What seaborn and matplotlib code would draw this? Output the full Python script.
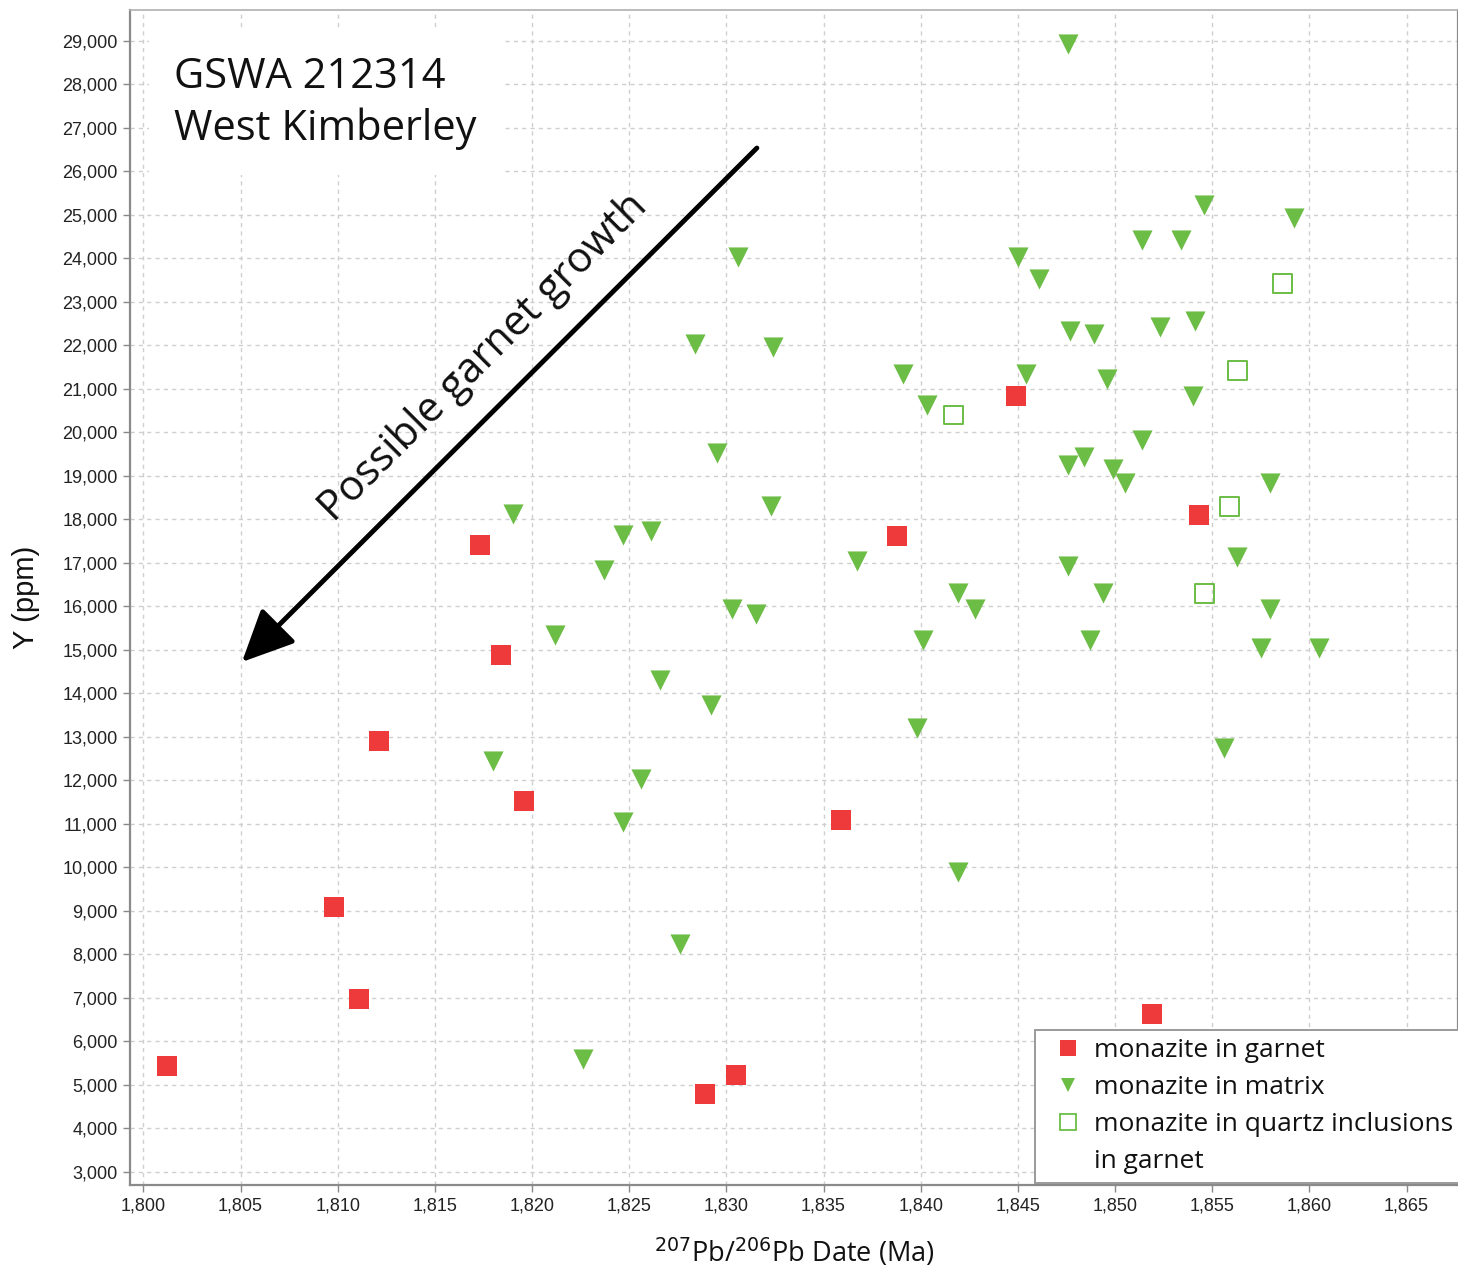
import numpy as np
import pandas as pd
import matplotlib
matplotlib.use("Agg")
import matplotlib.pyplot as plt
import seaborn as sns
from matplotlib.lines import Line2D
from matplotlib.ticker import MultipleLocator, StrMethodFormatter

# ---- data ----
garnet_date = [1801.2, 1809.8, 1811.1, 1812.1, 1817.3, 1818.4, 1819.6,
               1828.9, 1830.5, 1835.9, 1838.8, 1844.9, 1854.3, 1851.9]
garnet_y = [5430, 9085, 6970, 12900, 17400, 14880, 11520,
            4790, 5220, 11085, 17610, 20830, 18100, 6625]

quartz_date = [1841.7, 1858.6, 1856.3, 1855.9, 1854.6]
quartz_y = [20395, 23410, 21410, 18300, 16300]

matrix_date = [1847.6, 1854.6, 1859.2, 1830.6, 1845.0, 1851.4, 1853.4, 1846.1,
               1847.7, 1848.9, 1852.3, 1854.1, 1828.4, 1832.4, 1839.1, 1845.4,
               1849.6, 1840.3, 1854.0, 1851.4, 1829.5, 1847.6, 1848.4, 1849.9,
               1850.5, 1858.0, 1819.0, 1832.3, 1824.7, 1826.1, 1823.7, 1836.7,
               1856.3, 1847.6, 1841.9, 1849.4, 1842.8, 1858.0, 1830.3, 1831.5,
               1821.2, 1840.1, 1848.7, 1857.5, 1860.5, 1826.6, 1829.2, 1839.8,
               1818.0, 1855.6, 1825.6, 1824.7, 1841.9, 1827.6, 1822.6]
matrix_y = [28920, 25220, 24920, 24030, 24030, 24420, 24420, 23520,
            22330, 22260, 22420, 22560, 22030, 21960, 21340, 21340,
            21220, 20620, 20830, 19820, 19520, 19250, 19430, 19150,
            18830, 18830, 18120, 18300, 17640, 17730, 16830, 17040,
            17130, 16920, 16300, 16300, 15940, 15940, 15940, 15820,
            15340, 15220, 15220, 15040, 15040, 14300, 13730, 13200,
            12440, 12740, 12030, 11040, 9890, 8230, 5590]

legend_labels = ["monazite in garnet", "monazite in matrix",
                 "monazite in quartz inclusions", "in garnet"]

RED = "#EE3A3A"
GREEN = "#6CBD45"

sns.set_theme(style="white")
plt.rcParams["font.family"] = ["Liberation Sans", "DejaVu Sans"]

fig = plt.figure(figsize=(14.58, 12.70), dpi=100)
ax = fig.add_axes([130 / 1458, 1 - 1185 / 1270, 1 - 130 / 1458, (1185 - 10) / 1270])

df_g = pd.DataFrame({"date": garnet_date, "y": garnet_y})
df_m = pd.DataFrame({"date": matrix_date, "y": matrix_y})
df_q = pd.DataFrame({"date": quartz_date, "y": quartz_y})

sns.scatterplot(data=df_m, x="date", y="y", marker="v", s=210, color=GREEN,
                linewidth=0, ax=ax, zorder=3)
sns.scatterplot(data=df_g, x="date", y="y", marker="s", s=200, color=RED,
                linewidth=0, ax=ax, zorder=3)
ax.scatter(df_q["date"], df_q["y"], marker="s", s=185, facecolors="none",
           edgecolors=GREEN, linewidths=1.4, zorder=3)

ax.set_xlim(1799.31, 1867.65)
ax.set_ylim(2694, 29706)
ax.xaxis.set_major_locator(MultipleLocator(5))
ax.yaxis.set_major_locator(MultipleLocator(1000))
ax.xaxis.set_major_formatter(StrMethodFormatter("{x:,.0f}"))
ax.yaxis.set_major_formatter(StrMethodFormatter("{x:,.0f}"))
ax.tick_params(axis="both", which="major", length=5, width=1, color="#888888",
               labelsize=13, labelcolor="#222222", direction="out", pad=4,
               bottom=True, left=True)

ax.grid(True, which="major", color="#cfcfcf", linestyle=(0, (3, 3)), linewidth=1)
ax.set_axisbelow(True)
for side in ["left", "bottom", "top", "right"]:
    ax.spines[side].set_color("#8a8a8a")
    ax.spines[side].set_linewidth(1.6)
ax.spines["top"].set_color("#b0b0b0")
ax.spines["top"].set_linewidth(1.2)

ax.set_ylabel("Y (ppm)", fontsize=21, labelpad=16, color="#111111")
ax.set_xlabel("$^{207}$Pb/$^{206}$Pb Date (Ma)", fontsize=19.5, labelpad=16,
              color="#111111", family=["Open Sans", "DejaVu Sans"])

# sample label with white background
ax.text(1801.6, 27560, "GSWA 212314\nWest Kimberley", fontsize=30,
        family=["Open Sans", "DejaVu Sans"], color="#111111", va="center",
        ha="left", linespacing=1.3, zorder=4,
        bbox=dict(facecolor="white", edgecolor="none", pad=18))

# arrow
ax.annotate("", xy=(1805.07, 14717), xytext=(1831.57, 26533),
            arrowprops=dict(arrowstyle="-|>,head_length=1.6,head_width=0.75",
                            mutation_scale=20, lw=3.5, color="black",
                            shrinkA=0, shrinkB=0),
            zorder=5)
ax.text(1817.5, 21720, "Possible garnet growth", rotation=45, fontsize=30,
        family=["Open Sans", "DejaVu Sans"], ha="center", va="center",
        rotation_mode="anchor", color="#111111", zorder=5)

handles = [
    Line2D([], [], marker="s", linestyle="none", markersize=11, color=RED, markeredgewidth=0),
    Line2D([], [], marker="v", linestyle="none", markersize=10, color=GREEN, markeredgewidth=0),
    Line2D([], [], marker="s", linestyle="none", markersize=11, markerfacecolor="none",
           markeredgecolor=GREEN, markeredgewidth=1.3),
    Line2D([], [], linestyle="none", marker=None),
]
leg = ax.legend(handles, legend_labels, loc="lower left",
                bbox_to_anchor=((1035 - 130) / 1328, 0.002), borderaxespad=0,
                frameon=True, fancybox=False, framealpha=1, edgecolor="#9a9a9a",
                prop={"family": ["Open Sans", "DejaVu Sans"], "size": 19},
                handlelength=1.85, handletextpad=0.05, labelspacing=0.45,
                borderpad=0.33)
leg.get_frame().set_linewidth(1.4)
for t in leg.get_texts():
    t.set_color("#111111")
leg.set_zorder(6)

fig.savefig("out.png", dpi=100)
